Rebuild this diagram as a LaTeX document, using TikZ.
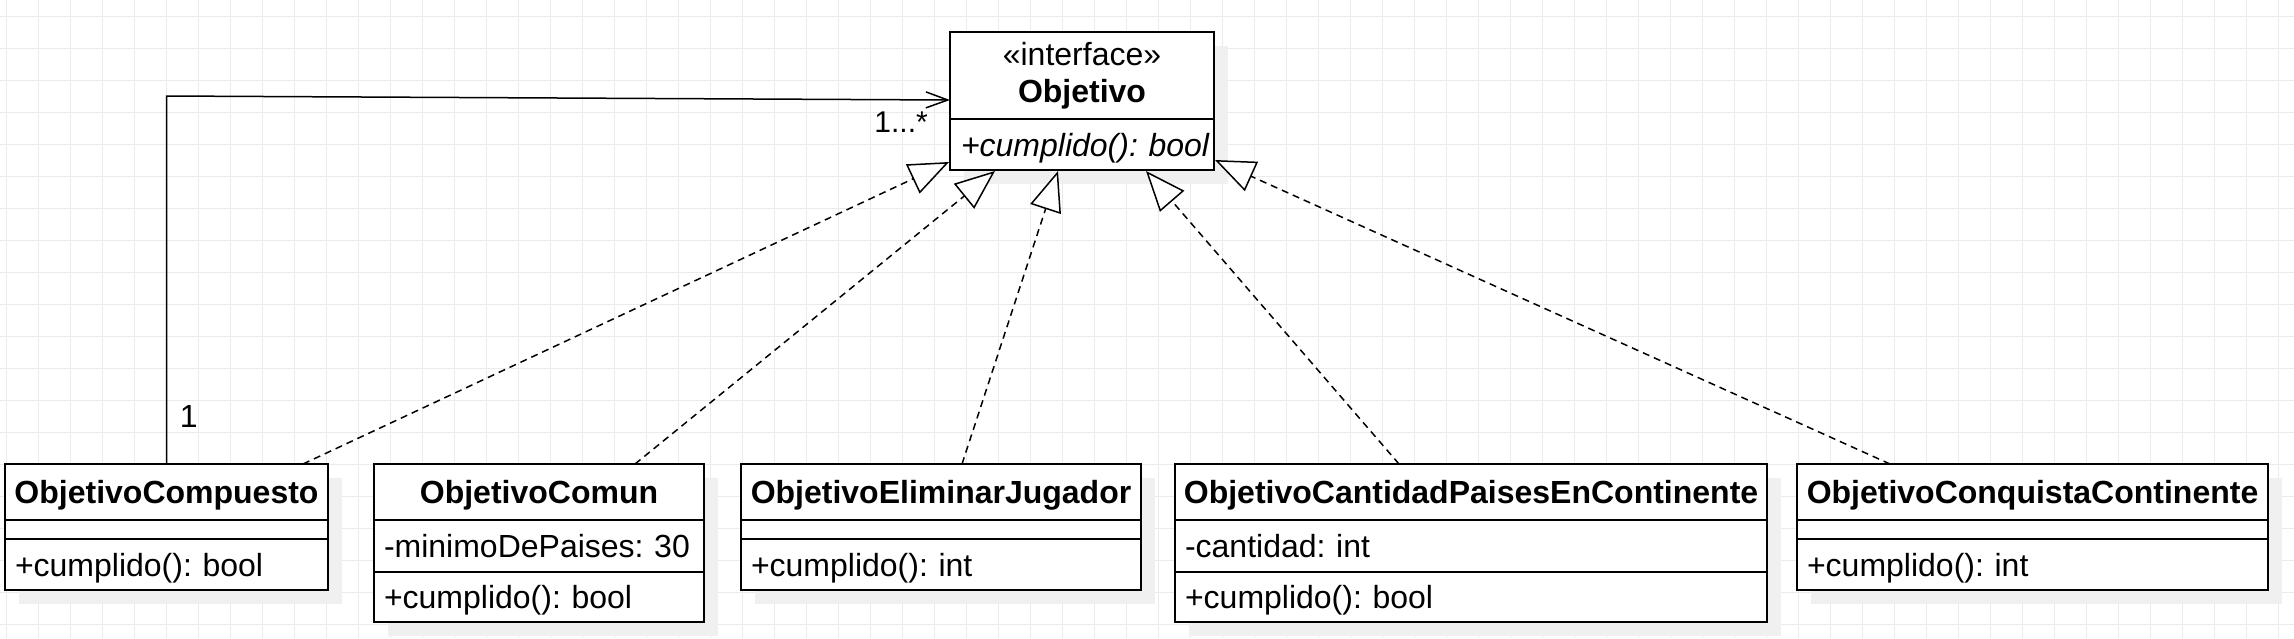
\documentclass[tikz,border=0pt]{standalone}
\usepackage{fontspec}
\setmainfont{Liberation Sans}
\usetikzlibrary{arrows.meta,calc}
\pgfdeclarelayer{background}
\pgfsetlayers{background,main}
\definecolor{gridc}{HTML}{EBEBEB}
\definecolor{shadowc}{HTML}{F0F0F0}
\begin{document}
\frenchspacing
\begin{tikzpicture}[x=0.5pt,y=-0.5pt,
  clsbox/.style={draw=black, line width=1pt, fill=white, inner xsep=5pt, inner ysep=0pt,
    outer sep=0pt, anchor=north west, font=\fontsize{16}{18.5}\selectfont,
    text height=11.5pt, text depth=0pt},
  clshdr/.style={clsbox, inner xsep=2pt, minimum width=#1, minimum height=28pt, align=center,
    font=\fontsize{16}{18.5}\selectfont\bfseries},
  clsrow/.style 2 args={clsbox, text width=#1, minimum height=#2, align=left},
  clsempty/.style={clsbox, text width=#1, minimum height=9.5pt, text height=0pt},
  gridline/.style={draw=gridc, line width=0.5pt},
  shadowbox/.style={fill=shadowc},
  real/.style={draw=black, line width=0.75pt, dash pattern=on 3.5pt off 2.5pt,
    -{Triangle[length=20pt,width=16pt,fill=white]}},
  assoc/.style={draw=black, line width=0.75pt, -{Straight Barb[length=11pt,width=8pt]}},
  mult/.style={inner sep=0pt, anchor=base west}
]
\useasboundingbox (0,0) rectangle (2294,638);

% ---- interface
\node[clsbox, inner xsep=2pt, minimum width=132pt, minimum height=43.5pt, align=center,
  text height=30pt, text depth=3.5pt] (objH) at (950,32) {«interface»\\\textbf{Objetivo}};
\node[clsrow={121pt}{25.5pt}, inner xsep=5.5pt] (objM) at (objH.south west) {\mbox{\itshape +cumplido(): bool}};

% ---- ObjetivoCompuesto
\node[clshdr=161.5pt] (compH) at (5,464) {ObjetivoCompuesto};
\node[clsempty=151.5pt] (compA) at (compH.south west) {};
\node[clsrow={151.5pt}{25.5pt}] (compM) at (compA.south west) {\mbox{+cumplido(): bool}};

% ---- ObjetivoComun
\node[clshdr=165pt] (comH) at (374,464) {ObjetivoComun};
\node[clsrow={155pt}{26pt}] (comA) at (comH.south west) {\mbox{-minimoDePaises: 30}};
\node[clsrow={155pt}{25pt}] (comM) at (comA.south west) {\mbox{+cumplido(): bool}};

% ---- ObjetivoEliminarJugador
\node[clshdr=200pt] (elH) at (741,464) {ObjetivoEliminarJugador};
\node[clsempty=190pt] (elA) at (elH.south west) {};
\node[clsrow={190pt}{25.5pt}] (elM) at (elA.south west) {\mbox{+cumplido(): int}};

% ---- ObjetivoCantidadPaisesEnContinente
\node[clshdr=296pt] (caH) at (1175,464) {ObjetivoCantidadPaisesEnContinente};
\node[clsrow={286pt}{26pt}] (caA) at (caH.south west) {\mbox{-cantidad: int}};
\node[clsrow={286pt}{25pt}] (caM) at (caA.south west) {\mbox{+cumplido(): bool}};

% ---- ObjetivoConquistaContinente
\node[clshdr=235.5pt] (coH) at (1797,464) {ObjetivoConquistaContinente};
\node[clsempty=225.5pt] (coA) at (coH.south west) {};
\node[clsrow={225.5pt}{25.5pt}] (coM) at (coA.south west) {\mbox{+cumplido(): int}};

% ---- background: grid and shadows
\begin{pgfonlayer}{background}
  \fill[white] (0,0) rectangle (2294,638);
  \foreach \i in {0,...,71} \draw[gridline] ({6.3+32*\i},0) -- ({6.3+32*\i},638);
  \foreach \j in {0,...,19} \draw[gridline] (0,{16+32*\j}) -- (2294,{16+32*\j});
  \fill[shadowbox] ($(objH.north west)+(14,14)$) rectangle ($(objM.south east)+(14,14)$);
  \fill[shadowbox] ($(compH.north west)+(14,14)$) rectangle ($(compM.south east)+(14,14)$);
  \fill[shadowbox] ($(comH.north west)+(14,14)$) rectangle ($(comM.south east)+(14,14)$);
  \fill[shadowbox] ($(elH.north west)+(14,14)$) rectangle ($(elM.south east)+(14,14)$);
  \fill[shadowbox] ($(caH.north west)+(14,14)$) rectangle ($(caM.south east)+(14,14)$);
  \fill[shadowbox] ($(coH.north west)+(14,14)$) rectangle ($(coM.south east)+(14,14)$);
\end{pgfonlayer}

% ---- association
\coordinate (bend) at (0,96);
\draw[assoc] (compH.north) -- (compH.north |- bend) -- ($(objH.north west)!0.5!(objM.south west)+(0,-1)$);
\node[mult, font=\fontsize{15}{18}\selectfont] (mtop) at (874,132) {1...*};
\node[mult, font=\fontsize{16}{19}\selectfont] (mbot) at (179.5,427) {1};

% ---- realizations
\draw[real] ($(compH.north east)+(-25,0)$) -- ($(objM.south west)+(-1,-8)$);
\draw[real] ($(comH.north east)+(-69,0)$) -- ($(objM.south west)+(45,1)$);
\draw[real] ($(elH.north)+(21,0)$) -- ($(objM.south west)+(108,1)$);
\draw[real] ($(caH.north west)+(224,0)$) -- ($(objM.south west)+(196,1)$);
\draw[real] ($(coH.north west)+(93,0)$) -- ($(objM.south east)+(1,-10)$);
\end{tikzpicture}
\end{document}
